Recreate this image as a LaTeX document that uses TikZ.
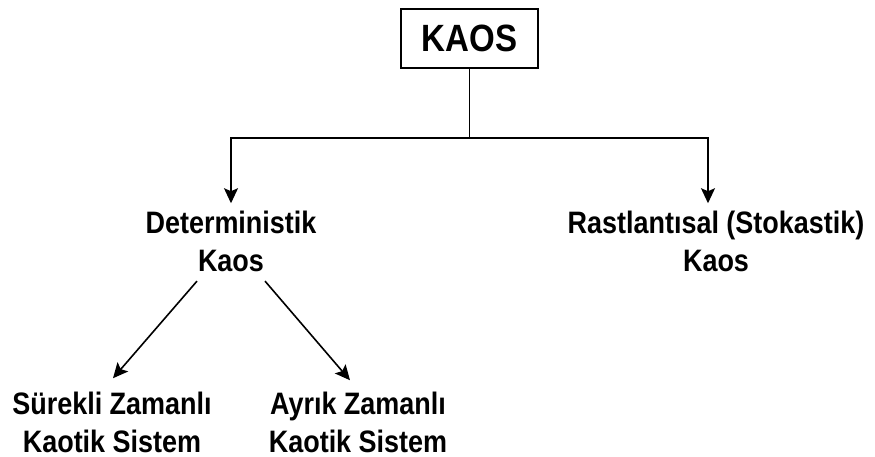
\documentclass[tikz,border=0pt]{standalone}
\usepackage{fontspec}
\setmainfont{Liberation Sans}[FakeStretch=0.87]
\usetikzlibrary{arrows.meta}
\begin{document}
\begin{tikzpicture}[x=1pt,y=1pt,line width=1.6pt,
  lbl/.style={font=\bfseries\fontsize{31}{37.5}\selectfont, align=center, inner sep=0pt, anchor=base},
  topbox/.style={draw, minimum width=137pt, minimum height=59pt, inner sep=0pt,
    font=\bfseries\fontsize{38}{40}\selectfont},
  arr/.style={-{Stealth[length=15pt,width=14pt,inset=3pt]}}]
\useasboundingbox (0,0) rectangle (875,-457);
\node[topbox] (kaos) at (469.5,-38.5) {KAOS};
\node[lbl] (det) at (231,-271) {Deterministik\\Kaos};
\node[lbl] (rast) at (716,-271) {Rastlantısal (Stokastik)\\Kaos};
\node[lbl] (sure) at (112,-452) {Sürekli Zamanlı\\Kaotik Sistem};
\node[lbl] (ayrik) at (358,-452) {Ayrık Zamanlı\\Kaotik Sistem};
\draw (kaos.south) -- ++(0,-69) coordinate (j);
\draw[arr] (j) -| ([yshift=7pt]det.north);
\draw[arr] (j) -| ([shift={(-8pt,7pt)}]rast.north);
\draw[arr] ([shift={(-34pt,-9pt)}]det.south) -- ([shift={(1pt,13pt)}]sure.north);
\draw[arr] ([shift={(34pt,-9pt)}]det.south) -- ([shift={(-8pt,11pt)}]ayrik.north);
\end{tikzpicture}
\end{document}
